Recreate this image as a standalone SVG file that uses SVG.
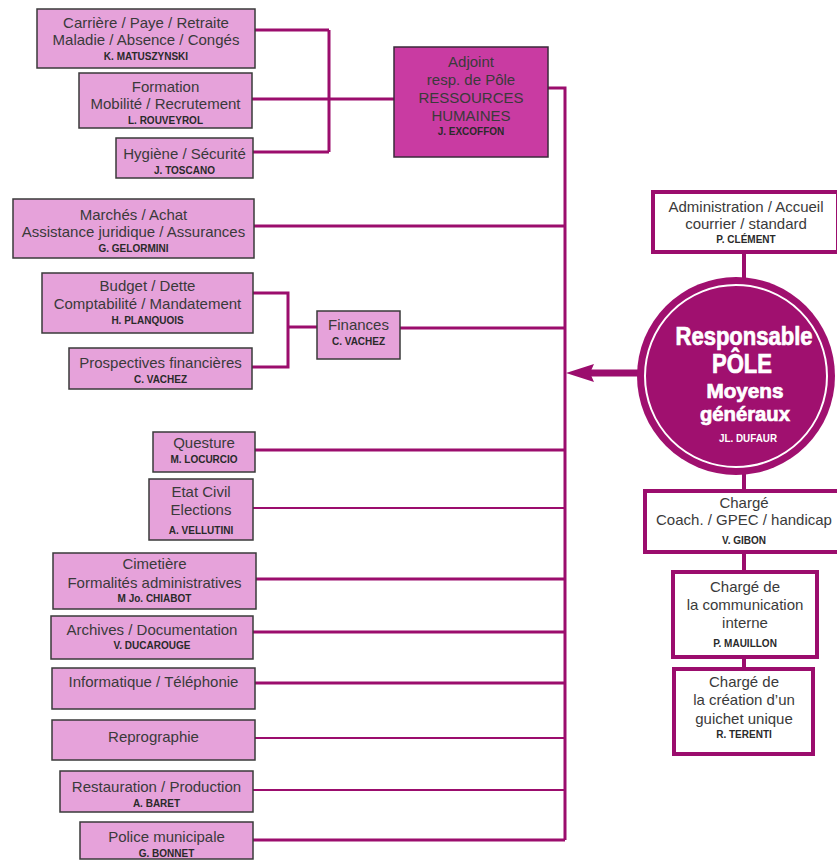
<svg xmlns="http://www.w3.org/2000/svg" width="837" height="861" viewBox="0 0 837 861">
  <style>
    .box { fill: #e6a2da; stroke: #3a3a3a; stroke-width: 1.5; }
    .hr { fill: #c93ba2; stroke: #3a2a3a; stroke-width: 1.5; }
    .wbox { fill: #ffffff; stroke: #9b0d6d; stroke-width: 4; }
    .t { font-family: "Liberation Sans", Arial, sans-serif; font-size: 15px; fill: #3a3a3a; text-anchor: middle; }
    .n { font-family: "Liberation Sans", Arial, sans-serif; font-size: 10px; font-weight: bold; fill: #2a2a2a; text-anchor: middle; }
    .c { font-family: "Liberation Sans", Arial, sans-serif; font-weight: bold; fill: #ffffff; stroke: #ffffff; stroke-width: 0.7; text-anchor: middle; }
    .ln { stroke: #9b0d6d; stroke-width: 3; fill: none; }
    .thin { stroke-width: 2; }
    .thick { stroke-width: 4; }
  </style>
  <rect width="837" height="861" fill="#ffffff"/>

  <!-- connectors -->
  <g id="connectors">
    <path class="ln" d="M255 30 H329 M252 99 H329 M253 152 H329 M329 30 V152 M329 99 H394"/>
    <path class="ln" d="M548 88 H565 V840"/>
    <path class="ln" d="M254 226 H565"/>
    <path class="ln" d="M253 293 H288 V367 H252 M288 327 H317"/>
    <path class="ln" d="M400 328 H565"/>
    <path class="ln" d="M255 450 H565"/>
    <path class="ln thin" d="M253 508 H565"/>
    <path class="ln" d="M256 579 H565"/>
    <path class="ln" d="M253 632 H565"/>
    <path class="ln" d="M255 683 H565"/>
    <path class="ln thin" d="M255 738 H565"/>
    <path class="ln thin" d="M253 790 H565"/>
    <path class="ln" d="M253 840 H565"/>
    <path class="ln" style="stroke-width:7" d="M640 373 H590"/>
    <polygon points="566,373 594,364 590,373 594,382" fill="#9b0d6d"/>
    <path class="ln thick" d="M744 252 V278 M744 474 V491 M744 552 V572 M744 657 V669"/>
  </g>

  <!-- human resources branch -->
  <g id="n-carriere">
    <rect class="box" x="37" y="9" width="218" height="59"/>
    <text class="t" x="146" y="28">Carrière / Paye / Retraite</text>
    <text class="t" x="146" y="45">Maladie / Absence / Congés</text>
    <text class="n" x="146" y="60">K. MATUSZYNSKI</text>
  </g>
  <g id="n-formation">
    <rect class="box" x="79" y="73" width="173" height="55"/>
    <text class="t" x="165.5" y="92">Formation</text>
    <text class="t" x="165.5" y="109">Mobilité / Recrutement</text>
    <text class="n" x="165.5" y="124">L. ROUVEYROL</text>
  </g>
  <g id="n-hygiene">
    <rect class="box" x="116" y="138" width="137" height="40"/>
    <text class="t" x="184.5" y="159">Hygiène / Sécurité</text>
    <text class="n" x="184.5" y="174">J. TOSCANO</text>
  </g>
  <g id="n-adjoint">
    <rect class="hr" x="394" y="47" width="154" height="110"/>
    <text class="t" x="471" y="67">Adjoint</text>
    <text class="t" x="471" y="85">resp. de Pôle</text>
    <text class="t" x="471" y="103">RESSOURCES</text>
    <text class="t" x="471" y="121">HUMAINES</text>
    <text class="n" x="471" y="135">J. EXCOFFON</text>
  </g>

  <!-- finance and purchasing -->
  <g id="n-marches">
    <rect class="box" x="13" y="199" width="241" height="59"/>
    <text class="t" x="133.5" y="220">Marchés / Achat</text>
    <text class="t" x="133.5" y="237">Assistance juridique / Assurances</text>
    <text class="n" x="133.5" y="252">G. GELORMINI</text>
  </g>
  <g id="n-budget">
    <rect class="box" x="42" y="273" width="211" height="60"/>
    <text class="t" x="147.5" y="291">Budget / Dette</text>
    <text class="t" x="147.5" y="309">Comptabilité / Mandatement</text>
    <text class="n" x="147.5" y="324">H. PLANQUOIS</text>
  </g>
  <g id="n-prospectives">
    <rect class="box" x="69" y="348" width="183" height="41"/>
    <text class="t" x="160.5" y="368">Prospectives financières</text>
    <text class="n" x="160.5" y="383">C. VACHEZ</text>
  </g>
  <g id="n-finances">
    <rect class="box" x="317" y="311" width="83" height="48"/>
    <text class="t" x="358.5" y="330">Finances</text>
    <text class="n" x="358.5" y="345">C. VACHEZ</text>
  </g>

  <!-- services -->
  <g id="n-questure">
    <rect class="box" x="153" y="432" width="102" height="40"/>
    <text class="t" x="204" y="448">Questure</text>
    <text class="n" x="204" y="463">M. LOCURCIO</text>
  </g>
  <g id="n-etatcivil">
    <rect class="box" x="149" y="479" width="104" height="61"/>
    <text class="t" x="201" y="497">Etat Civil</text>
    <text class="t" x="201" y="515">Elections</text>
    <text class="n" x="201" y="534">A. VELLUTINI</text>
  </g>
  <g id="n-cimetiere">
    <rect class="box" x="53" y="553" width="203" height="56"/>
    <text class="t" x="154.5" y="569">Cimetière</text>
    <text class="t" x="154.5" y="588">Formalités administratives</text>
    <text class="n" x="154.5" y="602">M Jo. CHIABOT</text>
  </g>
  <g id="n-archives">
    <rect class="box" x="51" y="616" width="202" height="43"/>
    <text class="t" x="152" y="635">Archives / Documentation</text>
    <text class="n" x="152" y="649">V. DUCAROUGE</text>
  </g>
  <g id="n-informatique">
    <rect class="box" x="52" y="668" width="203" height="41"/>
    <text class="t" x="153.5" y="687">Informatique / Téléphonie</text>
  </g>
  <g id="n-reprographie">
    <rect class="box" x="52" y="720" width="203" height="40"/>
    <text class="t" x="153.5" y="742">Reprographie</text>
  </g>
  <g id="n-restauration">
    <rect class="box" x="60" y="771" width="193" height="41"/>
    <text class="t" x="156.5" y="792">Restauration / Production</text>
    <text class="n" x="156.5" y="807">A. BARET</text>
  </g>
  <g id="n-police">
    <rect class="box" x="80" y="822" width="173" height="37"/>
    <text class="t" x="166.5" y="842">Police municipale</text>
    <text class="n" x="166.5" y="857">G. BONNET</text>
  </g>

  <!-- head of department -->
  <g id="n-responsable">
    <circle cx="736" cy="376" r="99" fill="#a0106f"/>
    <circle cx="736" cy="376" r="91" fill="none" stroke="#ffffff" stroke-width="2"/>
    <text class="c" x="744" y="345" font-size="25" textLength="137" lengthAdjust="spacingAndGlyphs">Responsable</text>
    <text class="c" x="742" y="373" font-size="28" textLength="60" lengthAdjust="spacingAndGlyphs">PÔLE</text>
    <text class="c" x="745" y="398" font-size="20" textLength="77" lengthAdjust="spacingAndGlyphs">Moyens</text>
    <text class="c" x="745" y="421" font-size="20" textLength="90" lengthAdjust="spacingAndGlyphs">généraux</text>
    <text class="n" x="748" y="442" style="fill:#ffffff" textLength="58" lengthAdjust="spacingAndGlyphs">JL. DUFAUR</text>
  </g>

  <!-- staff attached to the head -->
  <g id="n-administration">
    <rect class="wbox" x="653" y="192" width="185" height="60"/>
    <text class="t" x="746" y="212">Administration / Accueil</text>
    <text class="t" x="746" y="229">courrier / standard</text>
    <text class="n" x="746" y="243" font-size="8">P. CLÉMENT</text>
  </g>
  <g id="n-coach">
    <rect class="wbox" x="645" y="491" width="194" height="61"/>
    <text class="t" x="744" y="508">Chargé</text>
    <text class="t" x="744" y="525">Coach. / GPEC / handicap</text>
    <text class="n" x="744" y="544">V. GIBON</text>
  </g>
  <g id="n-communication">
    <rect class="wbox" x="673" y="572" width="144" height="85"/>
    <text class="t" x="745" y="592">Chargé de</text>
    <text class="t" x="745" y="610">la communication</text>
    <text class="t" x="745" y="628">interne</text>
    <text class="n" x="745" y="647">P. MAUILLON</text>
  </g>
  <g id="n-guichet">
    <rect class="wbox" x="674" y="669" width="139" height="85"/>
    <text class="t" x="744" y="687">Chargé de</text>
    <text class="t" x="744" y="705">la création d’un</text>
    <text class="t" x="744" y="724">guichet unique</text>
    <text class="n" x="744" y="738">R. TERENTI</text>
  </g>
</svg>
